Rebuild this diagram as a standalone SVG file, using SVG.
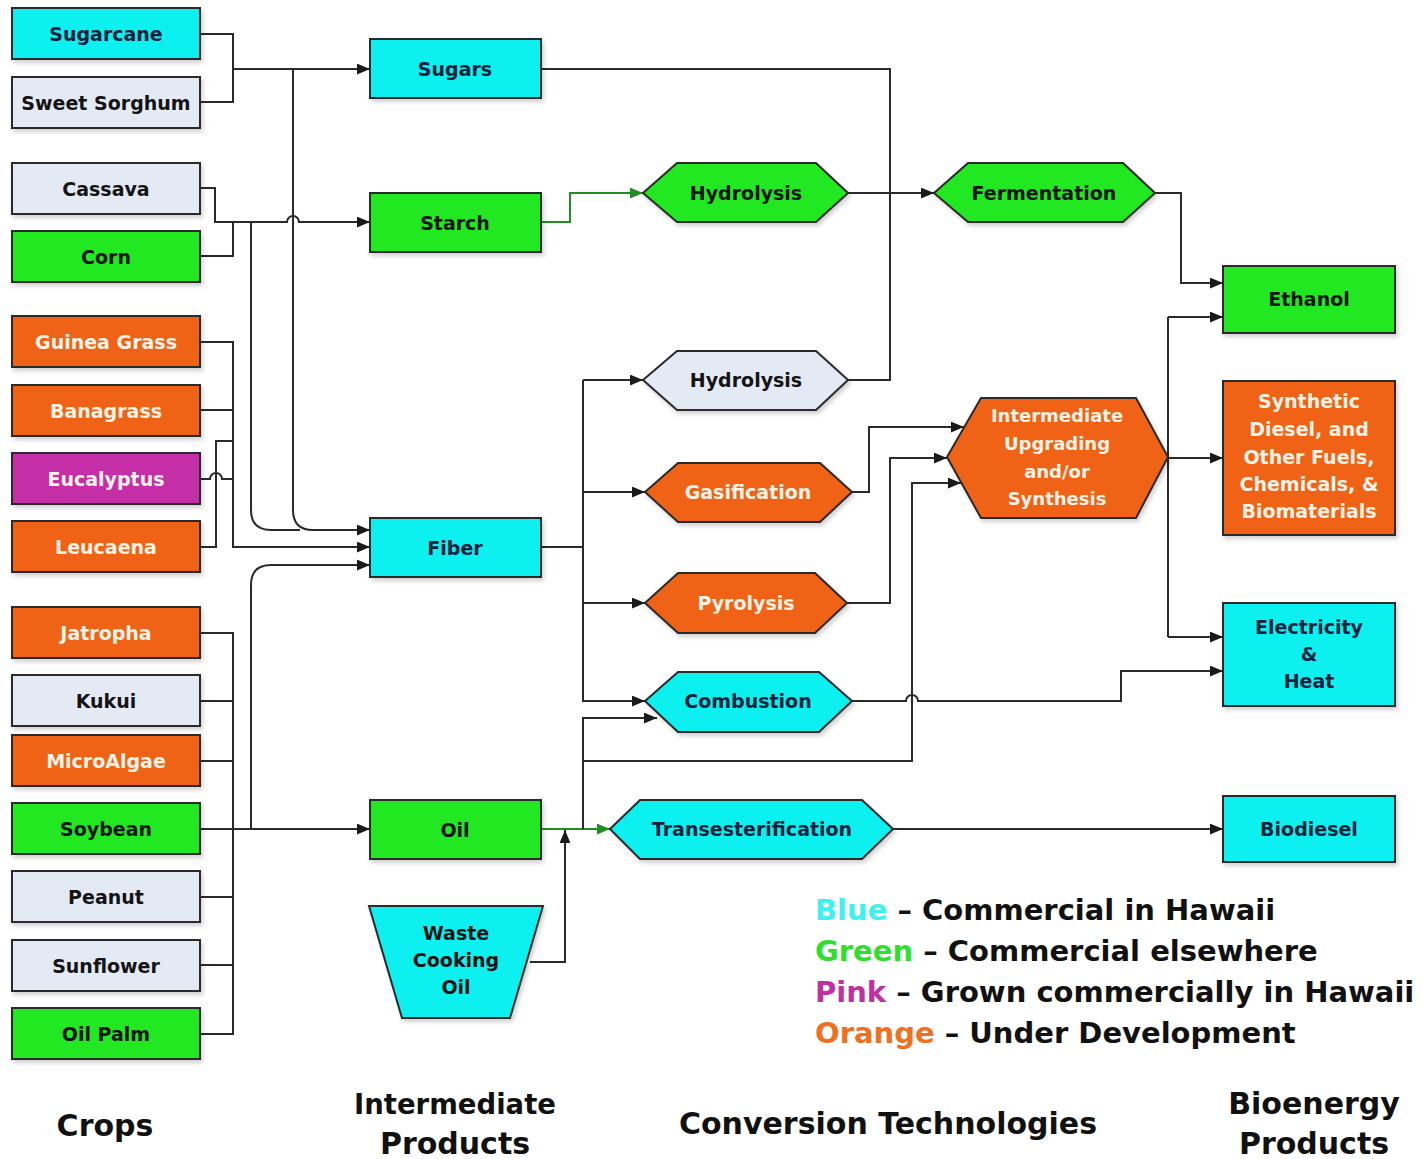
<svg xmlns="http://www.w3.org/2000/svg" width="1424" height="1159" viewBox="0 0 1424 1159">
<style>
.n{stroke:#2a2a2a;stroke-width:2;filter:url(#sh)}
.cy{fill:#0ff0f0}.gr{fill:#22e822}.or{fill:#f06418}.pk{fill:#c42ea6}.lt{fill:#e4eaf4}
text{font-family:"DejaVu Sans","Liberation Sans",sans-serif;font-weight:bold;text-anchor:middle}
.l{font-size:19px}.s{font-size:18px}
.tn{fill:#14213d}.tb{fill:#141414}.tw{fill:#fdf3e6}
.c{fill:none;stroke:#2a2a2a;stroke-width:2}
.g{fill:none;stroke:#1f8f1f;stroke-width:2}
.h{font-size:30px;fill:#111}
.lg{font-size:29px;text-anchor:start;fill:#111}
</style>
<defs>
<filter id="sh" x="-10%" y="-10%" width="130%" height="140%"><feDropShadow dx="2" dy="3" stdDeviation="2" flood-color="#000" flood-opacity="0.18"/></filter>
<marker id="a" viewBox="0 0 12 10" refX="12" refY="5" markerWidth="13" markerHeight="11" markerUnits="userSpaceOnUse" orient="auto"><path d="M0,0 L12,5 L0,10 z" fill="#1a1a1a"/></marker>
<marker id="ag" viewBox="0 0 12 10" refX="12" refY="5" markerWidth="13" markerHeight="11" markerUnits="userSpaceOnUse" orient="auto"><path d="M0,0 L12,5 L0,10 z" fill="#1f8f1f"/></marker>
</defs>
<rect width="1424" height="1159" fill="#fff"/>

<g id="connectors">
<path class="c" d="M200,34 H233 V102 H200"/>
<path class="c" d="M233,69 H370" marker-end="url(#a)"/>
<path class="c" d="M200,188 H215 V222 H287 A6 6 0 0 1 299 222 H370" marker-end="url(#a)"/>
<path class="c" d="M200,256 H233 V222"/>
<path class="c" d="M293,69 V510 Q293,530 313,530 H370" marker-end="url(#a)"/>
<path class="c" d="M251,222 V510 Q251,530 271,530 H300"/>
<path class="c" d="M200,342 H233 V547 H370" marker-end="url(#a)"/>
<path class="c" d="M200,410 H233"/>
<path class="c" d="M200,479 H210 A6 6 0 0 1 222 479 H233"/>
<path class="c" d="M200,547 H216 V441 H233"/>
<path class="c" d="M200,633 H233 V1034 H200"/>
<path class="c" d="M200,701 H233"/>
<path class="c" d="M200,761 H233"/>
<path class="c" d="M200,897 H233"/>
<path class="c" d="M200,965 H233"/>
<path class="c" d="M200,829 H370" marker-end="url(#a)"/>
<path class="c" d="M251,829 V585 Q251,565 271,565 H370" marker-end="url(#a)"/>
<path class="g" d="M541,222 H570 V193 H643" marker-end="url(#ag)"/>
<path class="c" d="M541,69 H890 V380 H848"/>
<path class="c" d="M848,193 H934" marker-end="url(#a)"/>
<path class="c" d="M541,547 H583"/>
<path class="c" d="M583,380 V701 H645" marker-end="url(#a)"/>
<path class="c" d="M583,380 H643" marker-end="url(#a)"/>
<path class="c" d="M583,492 H645" marker-end="url(#a)"/>
<path class="c" d="M583,603 H645" marker-end="url(#a)"/>
<path class="g" d="M541,829 H610" marker-end="url(#ag)"/>
<path class="c" d="M530,962 H565 V830" marker-end="url(#a)"/>
<path class="c" d="M583,829 V718 H657" marker-end="url(#a)"/>
<path class="c" d="M583,761 H912 V483 H961" marker-end="url(#a)"/>
<path class="c" d="M852,492 H869 V427 H964" marker-end="url(#a)"/>
<path class="c" d="M847,603 H890 V458 H947" marker-end="url(#a)"/>
<path class="c" d="M1155,193 H1181 V283 H1223" marker-end="url(#a)"/>
<path class="c" d="M1168,458 H1223" marker-end="url(#a)"/>
<path class="c" d="M1168,317 V637"/>
<path class="c" d="M1168,317 H1223" marker-end="url(#a)"/>
<path class="c" d="M1168,637 H1223" marker-end="url(#a)"/>
<path class="c" d="M852,701 H906 A6 6 0 0 1 918 701 H1121 V671 H1223" marker-end="url(#a)"/>
<path class="c" d="M893,829 H1223" marker-end="url(#a)"/>
</g>

<g id="crop-sugarcane"><rect class="n cy" x="12" y="8" width="188" height="51"/><text class="l tn" x="106" y="41">Sugarcane</text></g>
<g id="crop-sweet-sorghum"><rect class="n lt" x="12" y="77" width="188" height="51"/><text class="l tb" x="106" y="110">Sweet Sorghum</text></g>
<g id="crop-cassava"><rect class="n lt" x="12" y="163" width="188" height="51"/><text class="l tb" x="106" y="196">Cassava</text></g>
<g id="crop-corn"><rect class="n gr" x="12" y="231" width="188" height="51"/><text class="l tb" x="106" y="264">Corn</text></g>
<g id="crop-guinea-grass"><rect class="n or" x="12" y="316" width="188" height="51"/><text class="l tw" x="106" y="349">Guinea Grass</text></g>
<g id="crop-banagrass"><rect class="n or" x="12" y="385" width="188" height="51"/><text class="l tw" x="106" y="418">Banagrass</text></g>
<g id="crop-eucalyptus"><rect class="n pk" x="12" y="453" width="188" height="51"/><text class="l tw" x="106" y="486">Eucalyptus</text></g>
<g id="crop-leucaena"><rect class="n or" x="12" y="521" width="188" height="51"/><text class="l tw" x="106" y="554">Leucaena</text></g>
<g id="crop-jatropha"><rect class="n or" x="12" y="607" width="188" height="51"/><text class="l tw" x="106" y="640">Jatropha</text></g>
<g id="crop-kukui"><rect class="n lt" x="12" y="675" width="188" height="51"/><text class="l tb" x="106" y="708">Kukui</text></g>
<g id="crop-microalgae"><rect class="n or" x="12" y="735" width="188" height="51"/><text class="l tw" x="106" y="768">MicroAlgae</text></g>
<g id="crop-soybean"><rect class="n gr" x="12" y="803" width="188" height="51"/><text class="l tb" x="106" y="836">Soybean</text></g>
<g id="crop-peanut"><rect class="n lt" x="12" y="871" width="188" height="51"/><text class="l tb" x="106" y="904">Peanut</text></g>
<g id="crop-sunflower"><rect class="n lt" x="12" y="940" width="188" height="51"/><text class="l tb" x="106" y="973">Sunflower</text></g>
<g id="crop-oil-palm"><rect class="n gr" x="12" y="1008" width="188" height="51"/><text class="l tb" x="106" y="1041">Oil Palm</text></g>

<g id="int-sugars"><rect class="n cy" x="370" y="39" width="171" height="59"/><text class="l tn" x="455" y="76">Sugars</text></g>
<g id="int-starch"><rect class="n gr" x="370" y="193" width="171" height="59"/><text class="l tb" x="455" y="230">Starch</text></g>
<g id="int-fiber"><rect class="n cy" x="370" y="518" width="171" height="59"/><text class="l tn" x="455" y="555">Fiber</text></g>
<g id="int-oil"><rect class="n gr" x="370" y="800" width="171" height="59"/><text class="l tb" x="455" y="837">Oil</text></g>
<g id="int-waste-cooking-oil"><polygon class="n cy" points="369,906 543,906 510,1018 402,1018"/><text class="l tb" x="456" y="940">Waste</text><text class="l tb" x="456" y="967">Cooking</text><text class="l tb" x="456" y="994">Oil</text></g>

<g id="conv-hydrolysis-1"><polygon class="n gr" points="643,193 677,163 816,163 848,193 816,222 677,222"/><text class="l tb" x="746" y="200">Hydrolysis</text></g>
<g id="conv-hydrolysis-2"><polygon class="n lt" points="643,380 677,351 816,351 848,380 816,410 677,410"/><text class="l tb" x="746" y="387">Hydrolysis</text></g>
<g id="conv-gasification"><polygon class="n or" points="645,492 678,463 820,463 852,492 820,522 678,522"/><text class="l tw" x="748" y="499">Gasification</text></g>
<g id="conv-pyrolysis"><polygon class="n or" points="645,603 678,573 815,573 847,603 815,633 678,633"/><text class="l tw" x="746" y="610">Pyrolysis</text></g>
<g id="conv-combustion"><polygon class="n cy" points="645,701 678,672 819,672 852,701 819,732 678,732"/><text class="l tn" x="748" y="708">Combustion</text></g>
<g id="conv-transesterification"><polygon class="n cy" points="610,829 640,800 862,800 893,829 862,859 640,859"/><text class="l tn" x="752" y="836">Transesterification</text></g>
<g id="conv-fermentation"><polygon class="n gr" points="934,193 968,163 1123,163 1155,193 1123,222 968,222"/><text class="l tb" x="1044" y="200">Fermentation</text></g>
<g id="conv-intermediate"><polygon class="n or" points="947,457 981,398 1136,398 1168,457 1136,518 981,518"/><text class="s tw" x="1057" y="422">Intermediate</text><text class="s tw" x="1057" y="450">Upgrading</text><text class="s tw" x="1057" y="478">and/or</text><text class="s tw" x="1057" y="505">Synthesis</text></g>

<g id="prod-ethanol"><rect class="n gr" x="1223" y="266" width="172" height="67"/><text class="l tb" x="1309" y="306">Ethanol</text></g>
<g id="prod-synthetic"><rect class="n or" x="1223" y="381" width="172" height="154"/><text class="l tw" x="1309" y="408">Synthetic</text><text class="l tw" x="1309" y="436">Diesel, and</text><text class="l tw" x="1309" y="464">Other Fuels,</text><text class="l tw" x="1309" y="491">Chemicals, &amp;</text><text class="l tw" x="1309" y="518">Biomaterials</text></g>
<g id="prod-electricity"><rect class="n cy" x="1223" y="603" width="172" height="103"/><text class="l tn" x="1309" y="634">Electricity</text><text class="l tn" x="1309" y="661">&amp;</text><text class="l tn" x="1309" y="688">Heat</text></g>
<g id="prod-biodiesel"><rect class="n cy" x="1223" y="796" width="172" height="66"/><text class="l tn" x="1309" y="836">Biodiesel</text></g>

<g id="legend">
<text class="lg" x="815" y="920"><tspan fill="#3ef0f0">Blue</tspan> – Commercial in Hawaii</text>
<text class="lg" x="815" y="961"><tspan fill="#2ee02e">Green</tspan> – Commercial elsewhere</text>
<text class="lg" x="815" y="1002"><tspan fill="#c030a0">Pink</tspan> – Grown commercially in Hawaii</text>
<text class="lg" x="815" y="1043"><tspan fill="#f07020">Orange</tspan> – Under Development</text>
</g>

<g id="column-labels">
<text class="h" x="105" y="1136">Crops</text>
<text class="h" x="455" y="1114" style="font-size:27.5px">Intermediate</text>
<text class="h" x="455" y="1154">Products</text>
<text class="h" x="888" y="1134">Conversion Technologies</text>
<text class="h" x="1314" y="1114">Bioenergy</text>
<text class="h" x="1314" y="1154">Products</text>
</g>
</svg>
